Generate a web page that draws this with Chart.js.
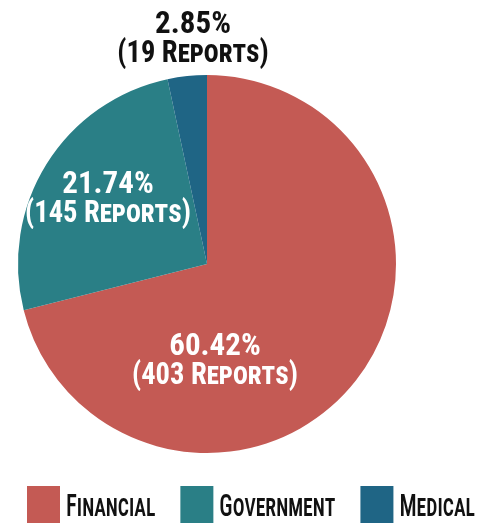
<!DOCTYPE html>
<html><head><meta charset="utf-8">
<script src="https://cdn.jsdelivr.net/npm/chart.js@4/dist/chart.umd.min.js"></script>
<style>html,body{margin:0;padding:0;background:#fff}#wrap{width:491px;height:523px}</style>
</head><body><div id="wrap"><canvas id="c" width="491" height="523"></canvas></div>
<script>
// ---- data ----
const categories = ['Financial', 'Government', 'Medical'];
const reports = [403, 145, 19];
const percents = [60.42, 21.74, 2.85];
const colors = ['#C45A54', '#2A7F86', '#1F6585'];

const FONT = "'Roboto Condensed','Open Sans Condensed',sans-serif";
// label anchor (first-line baseline) relative to pie centre, in units of the radius
const labelOffsets = [[0.042, 0.481], [-0.524, -0.376], [-0.074, -1.222]];
const labelColors = ['#ffffff', '#ffffff', '#111111'];

const sliceLabels = {
  id: 'sliceLabels',
  afterDatasetsDraw(chart) {
    const ctx = chart.ctx;
    const meta = chart.getDatasetMeta(0);
    meta.data.forEach((arc, i) => {
      const r = arc.outerRadius;
      const x = arc.x + labelOffsets[i][0] * r;
      const y = arc.y + labelOffsets[i][1] * r;
      ctx.save();
      ctx.fillStyle = labelColors[i];
      ctx.textAlign = 'center';
      ctx.textBaseline = 'alphabetic';
      ctx.translate(x, y);
      ctx.font = 'small-caps bold 31px ' + FONT;
      ctx.fillText(percents[i].toFixed(2) + '%', 0, 0);
      ctx.scale(0.92, 1);
      ctx.fillText('(' + reports[i] + ' Reports)', 0, 29);
      ctx.restore();
    });
  }
};

// legend drawn under the pie from the chart's own labels and colours
const bottomLegend = {
  id: 'bottomLegend',
  afterDraw(chart, args, opts) {
    const ctx = chart.ctx;
    const ds = chart.data.datasets[0];
    let x = opts.left;
    const y = opts.top;
    ctx.save();
    ctx.font = 'small-caps 500 32px ' + FONT;
    ctx.textBaseline = 'alphabetic';
    chart.data.labels.forEach((lab, i) => {
      ctx.fillStyle = ds.backgroundColor[i];
      ctx.fillRect(x, y, opts.box, opts.boxH);
      const tx = x + opts.box + opts.gap;
      const w = ctx.measureText(lab).width * opts.scaleX;
      ctx.save();
      ctx.translate(tx, y + opts.baseline);
      ctx.scale(opts.scaleX, 1);
      ctx.fillStyle = '#111';
      ctx.fillText(lab, 0, 0);
      ctx.restore();
      x = tx + w + opts.spacing;
    });
    ctx.restore();
  }
};

new Chart(document.getElementById('c'), {
  type: 'pie',
  data: {
    labels: categories,
    datasets: [{ data: reports, backgroundColor: colors, borderWidth: 0, hoverOffset: 0 }]
  },
  options: {
    responsive: false,
    animation: false,
    events: [],
    layout: { padding: { top: 75, bottom: 70, left: 18, right: 95 } },
    plugins: {
      tooltip: { enabled: false },
      legend: { display: false },
      bottomLegend: { left: 27, top: 486, box: 33, boxH: 40, gap: 6, baseline: 30, scaleX: 0.71, spacing: 25 }
    }
  },
  plugins: [sliceLabels, bottomLegend]
});
</script>
</body></html>
